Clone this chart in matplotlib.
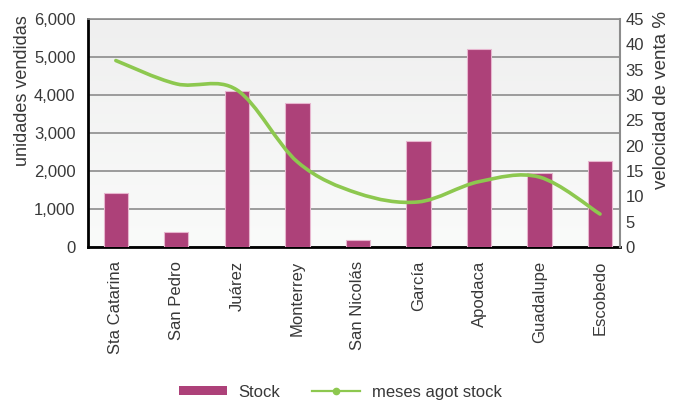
import matplotlib
matplotlib.use("Agg")
import matplotlib.pyplot as plt
import numpy as np
from matplotlib.path import Path
from matplotlib.patches import PathPatch, Patch
from matplotlib.lines import Line2D
from matplotlib.colors import LinearSegmentedColormap

plt.rcParams['font.family'] = ['Liberation Sans', 'DejaVu Sans']

municipios = ['Sta Catarina', 'San Pedro', 'Juárez', 'Monterrey', 'San Nicolás',
              'García', 'Apodaca', 'Guadalupe', 'Escobedo']
stock = [1410, 400, 4105, 3790, 190, 2780, 5220, 1940, 2255]
meses_agot = [36.8, 32.2, 31.0, 16.8, 10.6, 8.9, 12.9, 13.8, 6.5]

BAR_COLOR = '#ad4179'
LINE_COLOR = '#8dc84f'
TEXT_COLOR = '#383838'
GRID_COLOR = '#8c8c8c'


def smooth_path(xs, ys):
    # Catmull-Rom curve written as cubic Bezier segments
    pts = np.column_stack([xs, ys]).astype(float)
    ext = np.vstack([pts[0], pts, pts[-1]])
    verts = [tuple(pts[0])]
    codes = [Path.MOVETO]
    for i in range(1, len(ext) - 2):
        p0, p1, p2, p3 = ext[i - 1], ext[i], ext[i + 1], ext[i + 2]
        c1 = p1 + (p2 - p0) / 6
        c2 = p2 - (p3 - p1) / 6
        verts += [tuple(c1), tuple(c2), tuple(p2)]
        codes += [Path.CURVE4] * 3
    return Path(verts, codes)


fig = plt.figure(figsize=(6.79, 4.03), dpi=100)
ax = fig.add_axes([88 / 679, 1 - 247 / 403, 532 / 679, 228 / 403])
ax2 = ax.twinx()

x = np.arange(len(municipios))

# soft grey-to-white background of the plot area
grad = np.linspace(0, 1, 256).reshape(-1, 1)
cmap = LinearSegmentedColormap.from_list('bg', ['#fafbfa', '#efefef'])
ax.imshow(grad, extent=[0, 1, 0, 1], transform=ax.transAxes, origin='lower',
          aspect='auto', cmap=cmap, zorder=0)

ax.bar(x, stock, width=0.4, color=BAR_COLOR, edgecolor='#e7b6cf',
       linewidth=0.8, zorder=3)
ax.set_xlim(-0.46, 8.33)
ax.set_ylim(0, 6000)
ax.set_yticks(np.arange(0, 6001, 1000))
ax.set_yticklabels([f'{v:,}' for v in range(0, 6001, 1000)])
ax.set_xticks(x)
ax.set_xticklabels(municipios, rotation=90, va='top', ha='center')
ax.grid(axis='y', color=GRID_COLOR, linewidth=1.2)
ax.set_axisbelow(True)
ax.tick_params(axis='y', length=0, pad=9, labelsize=12, labelcolor=TEXT_COLOR)
ax.tick_params(axis='x', length=0, pad=10, labelsize=12, labelcolor=TEXT_COLOR)

for side in ['left', 'bottom']:
    ax.spines[side].set_color('black')
    ax.spines[side].set_linewidth(2)
ax.spines['top'].set_color(GRID_COLOR)
ax.spines['top'].set_linewidth(1.2)
ax.spines['right'].set_visible(False)

ax2.add_patch(PathPatch(smooth_path(x, meses_agot), fill=False,
                        edgecolor=LINE_COLOR, linewidth=2.6,
                        capstyle='round', zorder=4))
ax2.set_ylim(0, 45)
ax2.set_yticks(np.arange(0, 46, 5))
ax2.tick_params(axis='y', length=0, pad=4, labelsize=12, labelcolor=TEXT_COLOR)
for lbl in ax2.get_yticklabels():
    lbl.set_family(['Liberation Sans Narrow', 'Liberation Sans'])
for side in ['left', 'bottom', 'top']:
    ax2.spines[side].set_visible(False)
ax2.spines['right'].set_color(GRID_COLOR)
ax2.spines['right'].set_linewidth(1.5)

fig.text(23 / 679, 1 - 91 / 403, 'unidades vendidas', rotation=90,
         ha='center', va='center', fontsize=13, color=TEXT_COLOR)
fig.text(662 / 679, 1 - 100 / 403, 'velocidad de venta %', rotation=90,
         ha='center', va='center', fontsize=13.5, color=TEXT_COLOR)

handles = [Patch(facecolor=BAR_COLOR, edgecolor='none'),
           Line2D([], [], color=LINE_COLOR, linewidth=1.6, marker='o',
                  markersize=4.5)]
fig.legend(handles, ['Stock', 'meses agot stock'], loc='center',
           bbox_to_anchor=(0.501, 0.027), ncol=2, frameon=False, fontsize=12,
           handlelength=2.9, handleheight=0.45, handletextpad=0.7,
           columnspacing=1.9, labelcolor=TEXT_COLOR)

fig.savefig('out.png', dpi=100)
